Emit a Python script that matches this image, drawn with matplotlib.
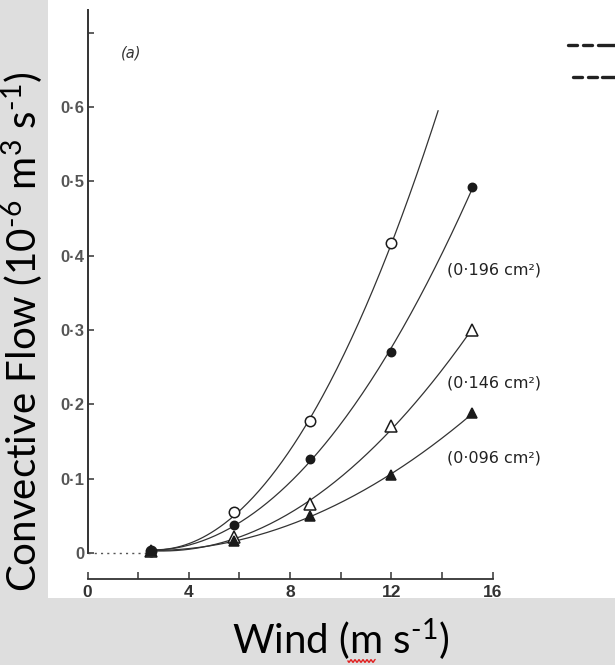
import numpy as np
import matplotlib
matplotlib.use("Agg")
import matplotlib.pyplot as plt
from matplotlib.patches import Rectangle
from matplotlib.lines import Line2D

# Wind speed (m s-1) at which convective flow was measured
wind = [2.5, 5.8, 8.8, 12.0, 15.2]

# Convective flow (10^-6 m3 s-1) for each pore area
flow_open_circle = [0.003, 0.055, 0.177, 0.417]          # largest area
flow_filled_circle = [0.003, 0.037, 0.127, 0.271, 0.492]  # 0.196 cm2
flow_open_triangle = [0.003, 0.021, 0.066, 0.171, 0.300]  # 0.146 cm2
flow_filled_triangle = [0.003, 0.016, 0.050, 0.105, 0.188]  # 0.096 cm2

area_labels = ["(0\u00b7196 cm\u00b2)", "(0\u00b7146 cm\u00b2)", "(0\u00b7096 cm\u00b2)"]
area_label_y = [0.381, 0.229, 0.128]

y_ticks = [0, 0.1, 0.2, 0.3, 0.4, 0.5, 0.6, 0.7]
y_ticklabels = ["0", "0\u00b71", "0\u00b72", "0\u00b73", "0\u00b74", "0\u00b75", "0\u00b76", ""]
x_ticks = [0, 2, 4, 6, 8, 10, 12, 14, 16]
x_ticklabels = ["0", "", "4", "", "8", "", "12", "", "16"]

W, H = 615, 665
fig = plt.figure(figsize=(W / 100, H / 100), dpi=100)
fig.patch.set_facecolor("#dedede")

# white page of the printed figure
fig.add_artist(Rectangle((48 / W, (H - 598) / H), (W - 48) / W, 598 / H,
                         transform=fig.transFigure, facecolor="white",
                         edgecolor="none", zorder=0))

# axes: x 0..16 -> px 87.5..492.5, y 0 -> px 553, 0.1 per 74.3 px
px_per_y = 743.3
y_lo, y_hi = -0.04, 0.73
bot_px = 553 + (-y_lo) * px_per_y
top_px = 553 - y_hi * px_per_y
ax = fig.add_axes([87.5 / W, (H - bot_px) / H, 405 / W, (bot_px - top_px) / H])
ax.set_xlim(0, 16)
ax.set_ylim(y_lo, y_hi)
ax.patch.set_alpha(0)

ink = "#1a1a1a"
for s in ["top", "right"]:
    ax.spines[s].set_visible(False)
ax.spines["left"].set_bounds(0, y_hi)
ax.spines["left"].set_linewidth(1.4)
ax.spines["left"].set_color("#333333")
ax.spines["bottom"].set_position(("data", -0.035))
ax.spines["bottom"].set_bounds(0, 16)
ax.spines["bottom"].set_linewidth(1.3)
ax.spines["bottom"].set_color("#333333")

ax.set_yticks(y_ticks)
ax.set_yticklabels(y_ticklabels)
ax.set_xticks(x_ticks)
ax.set_xticklabels(x_ticklabels)
ax.tick_params(axis="y", direction="in", length=4, width=1.1, pad=2,
               labelsize=12, colors="#333333", labelcolor="#555555")
ax.tick_params(axis="x", direction="in", length=5, width=1.1, pad=4,
               labelsize=12.5, colors="#333333", labelcolor="#333333")
for lab in ax.get_yticklabels() + ax.get_xticklabels():
    lab.set_fontfamily("Liberation Sans")
    lab.set_fontweight("bold")

# dotted baseline up to the first measurement
ax.plot([0, wind[0]], [0, 0], linestyle=(0, (1.5, 3)), color="#555555",
        lw=1.0, clip_on=False)


def fitted_curve(x, y, x_end):
    coef = np.polyfit(x, y, 2)
    xs = np.linspace(x[0], x_end, 200)
    return xs, np.polyval(coef, xs)


series = [
    (wind[:4], flow_open_circle, 13.85, dict(marker="o", mfc="white", ms=7.5)),
    (wind, flow_filled_circle, 15.2, dict(marker="o", mfc=ink, ms=6)),
    (wind, flow_open_triangle, 15.2, dict(marker="^", mfc="white", ms=8)),
    (wind, flow_filled_triangle, 15.2, dict(marker="^", mfc=ink, ms=6.5)),
]
for xv, yv, x_end, mk in series:
    xs, ys = fitted_curve(xv, yv, x_end)
    ax.plot(xs, ys, color="#333333", lw=0.9, clip_on=False, zorder=2)
    ax.plot(xv, yv, linestyle="none", mec=ink, mew=1.1, clip_on=False,
            zorder=3, **mk)

for txt, yv in zip(area_labels, area_label_y):
    ax.text(14.2, yv, txt, fontsize=11.5, color="#222222",
            family="DejaVu Sans", ha="left", va="center")

ax.text(1.3, 0.673, "(a)", fontsize=10.5, style="italic", color="#333333",
        family="DejaVu Sans", ha="left", va="center")

# axis titles in slide font
plt.rcParams["mathtext.fontset"] = "custom"
plt.rcParams["mathtext.rm"] = "Lato"
plt.rcParams["mathtext.it"] = "Lato:italic"
fig.text(23 / W, (H - 332) / H,
         "Convective Flow (10$^{\\text{-}6}$ m$^{3}$ s$^{\\text{-}1}$)",
         rotation=90, ha="center", va="center", fontsize=29,
         family="Lato", color="black")
fig.text(341 / W, (H - 640) / H, "Wind (m s$^{\\text{-}1}$)",
         ha="center", va="center", fontsize=29, family="Lato", color="black")

# spell-check squiggle under the "m"
sq_x = np.linspace(348, 375, 60)
sq_y = 661 + 1.3 * np.sin((sq_x - 348) * 2 * np.pi / 4.0)
fig.add_artist(Line2D(sq_x / W, (H - sq_y) / H, transform=fig.transFigure,
                      color="#e02020", lw=1.0))

# fragments of the neighbouring panel's key at the right edge
for ypx, segs in [(45, [(568, 577), (583, 592), (598, 615)]),
                  (77, [(573, 582), (588, 597), (602, 615)])]:
    for x0, x1 in segs:
        fig.add_artist(Line2D([x0 / W, x1 / W], [(H - ypx) / H] * 2,
                              transform=fig.transFigure, color="#222222",
                              lw=2.4, solid_capstyle="round"))

fig.savefig("out.png", dpi=100, facecolor=fig.get_facecolor())
